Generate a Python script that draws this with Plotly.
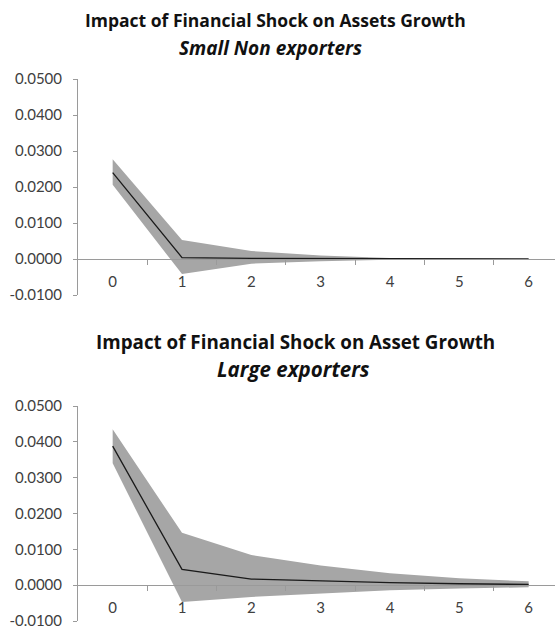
import plotly.graph_objects as go

periods = [0, 1, 2, 3, 4, 5, 6]
tick_labels = ["0", "1", "2", "3", "4", "5", "6"]

# Small Non exporters
small_mean = [0.0240, 0.0004, 0.0002, 0.0001, 0.0000, 0.0000, 0.0000]
small_upper = [0.0277, 0.0053, 0.0022, 0.0010, 0.0003, 0.0001, 0.0000]
small_lower = [0.0206, -0.0042, -0.0013, -0.0006, -0.0002, -0.0001, 0.0000]

# Large exporters
large_mean = [0.0388, 0.0044, 0.0017, 0.0011, 0.0007, 0.0004, 0.0002]
large_upper = [0.0435, 0.0146, 0.0084, 0.0055, 0.0033, 0.0019, 0.0011]
large_lower = [0.0340, -0.0047, -0.0033, -0.0024, -0.0014, -0.0009, -0.0006]

y_ticks = [-0.01, 0.0, 0.01, 0.02, 0.03, 0.04, 0.05]
y_tick_text = ["-0.0100", "0.0000", "0.0100", "0.0200", "0.0300", "0.0400", "0.0500"]

W, H = 555, 630
BAND = "#a6a6a6"
AXIS = "#9a9a9a"
TXT = "#404040"
FONT = "Lato"
TFONT = "Open Sans"

fig = go.Figure()

def add_panel(mean, upper, lower, xa, ya):
    fig.add_trace(go.Scatter(x=periods, y=lower, mode="lines", line=dict(width=0),
                             hoverinfo="skip", showlegend=False, xaxis=xa, yaxis=ya))
    fig.add_trace(go.Scatter(x=periods, y=upper, mode="lines", line=dict(width=0),
                             fill="tonexty", fillcolor=BAND,
                             hoverinfo="skip", showlegend=False, xaxis=xa, yaxis=ya))
    fig.add_trace(go.Scatter(x=periods, y=mean, mode="lines", line=dict(color="#1a1a1a", width=1.3),
                             showlegend=False, xaxis=xa, yaxis=ya))

add_panel(small_mean, small_upper, small_lower, "x", "y")
add_panel(large_mean, large_upper, large_lower, "x2", "y2")

top_dom = [335 / H, 551 / H]
bot_dom = [9 / H, 224 / H]

def zero_pos(dom):
    return dom[0] + (dom[1] - dom[0]) * (0.01 / 0.06)

def xaxis_cfg(dom):
    return dict(
        range=[-0.5, 6.38], anchor="free", position=zero_pos(dom),
        tickvals=periods, ticktext=tick_labels,
        ticks="outside", ticklen=9, tickcolor="rgba(0,0,0,0)",
        minor=dict(tickvals=[0.5, 1.5, 2.5, 3.5, 4.5, 5.5], ticks="outside",
                   ticklen=5, tickcolor=AXIS, tickwidth=1),
        showline=True, linecolor=AXIS, linewidth=1,
        showgrid=False, zeroline=False, automargin=False,
        tickfont=dict(family=FONT, size=15, color=TXT),
        fixedrange=True,
    )

def yaxis_cfg(dom, xa):
    return dict(
        domain=dom, anchor=xa, range=[-0.01, 0.05],
        tickvals=y_ticks, ticktext=y_tick_text,
        ticks="outside", ticklen=4, tickcolor=AXIS,
        ticklabelstandoff=8,
        showline=True, linecolor=AXIS, linewidth=1,
        showgrid=False, zeroline=False, automargin=False,
        tickfont=dict(family=FONT, size=15, color=TXT),
        fixedrange=True,
    )

fig.update_layout(
    width=W, height=H,
    margin=dict(l=78, r=0, t=0, b=0, autoexpand=False),
    paper_bgcolor="white", plot_bgcolor="white",
    showlegend=False,
    xaxis=dict(domain=[0, 1], **xaxis_cfg(top_dom)),
    yaxis=yaxis_cfg(top_dom, "x"),
    xaxis2=dict(domain=[0, 1], **xaxis_cfg(bot_dom)),
    yaxis2=yaxis_cfg(bot_dom, "x2"),
)

def title(text, xpx, ypx, size, italic=False):
    fig.add_annotation(
        text=("<i><b>%s</b></i>" % text) if italic else ("<b>%s</b>" % text),
        xref="paper", yref="paper",
        x=(xpx - 78) / (W - 78), y=1 - ypx / H,
        xanchor="center", yanchor="middle", showarrow=False,
        font=dict(family=TFONT, size=size, color="#111111"),
    )

title("Impact of Financial Shock on Assets Growth", 275, 20, 17.5)
title("Small Non exporters", 270, 48, 19, italic=True)
title("Impact of Financial Shock on Asset Growth", 295, 342, 18.8)
title("Large exporters", 293, 369, 20.5, italic=True)

fig.write_html(
    "out.html",
    config={"displayModeBar": False},
    post_script="document.body.style.margin='0';document.body.style.overflow='hidden';",
)
